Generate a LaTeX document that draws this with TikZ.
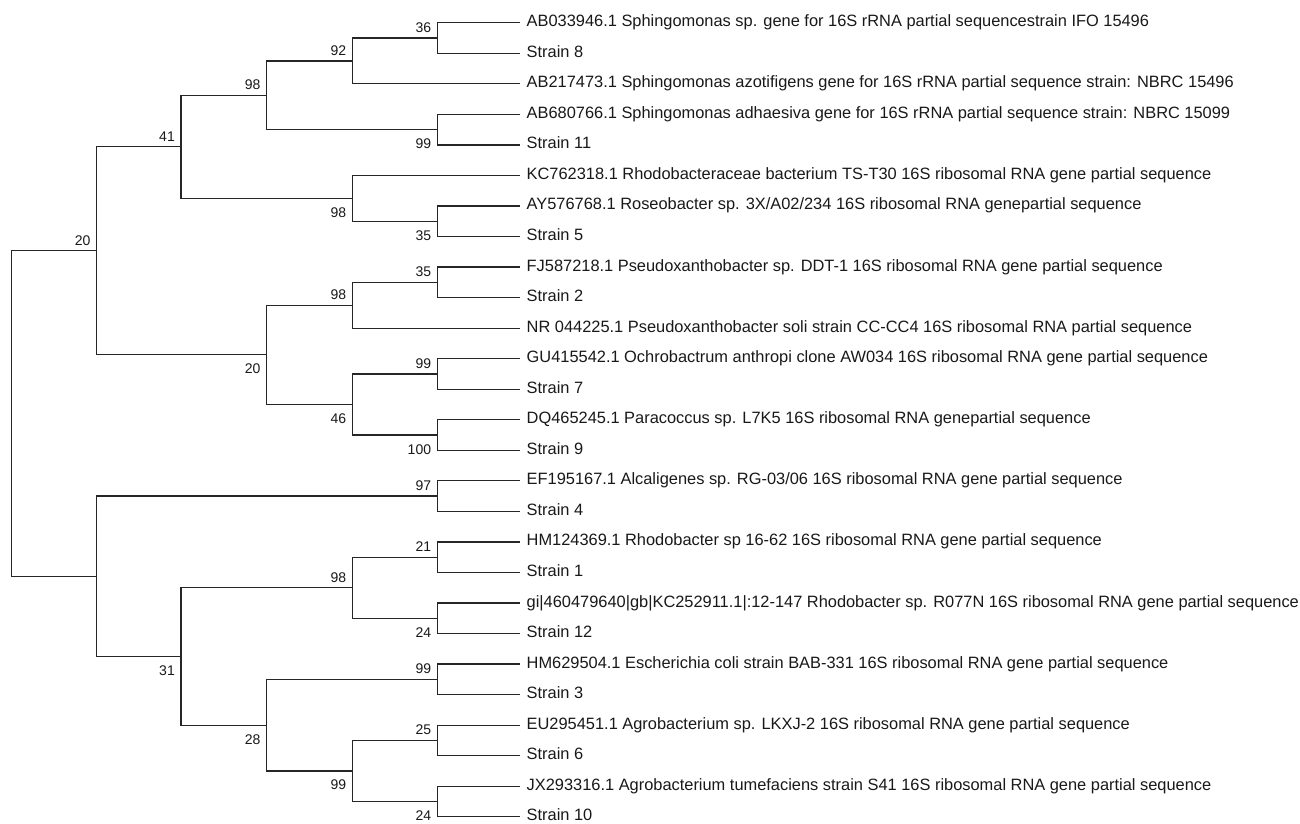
\documentclass[tikz,border=0pt]{standalone}
\usepackage{fontspec}
\setmainfont{Liberation Sans}
\begin{document}
\begin{tikzpicture}[x=1pt,y=-1pt,
  branch/.style={draw=black!85,line width=1.2pt},
  leaf/.style={anchor=west,inner xsep=6.5pt,inner ysep=0pt,text height=11.5pt,text depth=3.5pt,
    font=\fontsize{16.4}{19}\selectfont,text=black!90},
  bsup/.style={anchor=base east,inner sep=0pt,xshift=-6pt,yshift=5.5pt,font=\fontsize{14}{16}\selectfont,text=black!90},
  bsdn/.style={anchor=base east,inner sep=0pt,xshift=-6pt,yshift=-19pt,font=\fontsize{14}{16}\selectfont,text=black!90}]
\fill[white] (0,0) rectangle (1300,823);
\useasboundingbox (0,0) rectangle (1300,823);
% leaves
\node[leaf] (l0) at (520,22.7) {AB033946.1 Sphingomonas sp. gene for 16S rRNA partial sequencestrain IFO 15496};
\node[leaf] (l1) at (520,53.2) {Strain 8};
\node[leaf] (l2) at (520,83.8) {AB217473.1 Sphingomonas azotifigens gene for 16S rRNA partial sequence strain: NBRC 15496};
\node[leaf] (l3) at (520,114.3) {AB680766.1 Sphingomonas adhaesiva gene for 16S rRNA partial sequence strain: NBRC 15099};
\node[leaf] (l4) at (520,144.9) {Strain 11};
\node[leaf] (l5) at (520,175.4) {KC762318.1 Rhodobacteraceae bacterium TS-T30 16S ribosomal RNA gene partial sequence};
\node[leaf] (l6) at (520,205.9) {AY576768.1 Roseobacter sp. 3X/A02/234 16S ribosomal RNA genepartial sequence};
\node[leaf] (l7) at (520,236.5) {Strain 5};
\node[leaf] (l8) at (520,267.0) {FJ587218.1 Pseudoxanthobacter sp. DDT-1 16S ribosomal RNA gene partial sequence};
\node[leaf] (l9) at (520,297.6) {Strain 2};
\node[leaf] (l10) at (520,328.1) {NR 044225.1 Pseudoxanthobacter soli strain CC-CC4 16S ribosomal RNA partial sequence};
\node[leaf] (l11) at (520,358.6) {GU415542.1 Ochrobactrum anthropi clone AW034 16S ribosomal RNA gene partial sequence};
\node[leaf] (l12) at (520,389.2) {Strain 7};
\node[leaf] (l13) at (520,419.7) {DQ465245.1 Paracoccus sp. L7K5 16S ribosomal RNA genepartial sequence};
\node[leaf] (l14) at (520,450.3) {Strain 9};
\node[leaf] (l15) at (520,480.8) {EF195167.1 Alcaligenes sp. RG-03/06 16S ribosomal RNA gene partial sequence};
\node[leaf] (l16) at (520,511.3) {Strain 4};
\node[leaf] (l17) at (520,541.9) {HM124369.1 Rhodobacter sp 16-62 16S ribosomal RNA gene partial sequence};
\node[leaf] (l18) at (520,572.4) {Strain 1};
\node[leaf] (l19) at (520,603.0) {gi|460479640|gb|KC252911.1|:12-147 Rhodobacter sp. R077N 16S ribosomal RNA gene partial sequence};
\node[leaf] (l20) at (520,633.5) {Strain 12};
\node[leaf] (l21) at (520,664.0) {HM629504.1 Escherichia coli strain BAB-331 16S ribosomal RNA gene partial sequence};
\node[leaf] (l22) at (520,694.6) {Strain 3};
\node[leaf] (l23) at (520,725.1) {EU295451.1 Agrobacterium sp. LKXJ-2 16S ribosomal RNA gene partial sequence};
\node[leaf] (l24) at (520,755.7) {Strain 6};
\node[leaf] (l25) at (520,786.2) {JX293316.1 Agrobacterium tumefaciens strain S41 16S ribosomal RNA gene partial sequence};
\node[leaf] (l26) at (520,816.7) {Strain 10};
% internal nodes
\coordinate (n36) at (437.3,37.95);
\coordinate (n92) at (352.3,60.9);
\coordinate (n99a) at (437.3,129.6);
\coordinate (n98a) at (266.7,95.25);
\coordinate (n35a) at (437.3,221.2);
\coordinate (n98b) at (352.3,198.3);
\coordinate (n41) at (181,146.8);
\coordinate (n35b) at (437.3,282.3);
\coordinate (n98c) at (352.3,305.2);
\coordinate (n99b) at (437.3,373.9);
\coordinate (n100) at (437.3,435);
\coordinate (n46) at (352.3,404.45);
\coordinate (n20b) at (266.7,354.8);
\coordinate (n20u) at (96.7,250.8);
\coordinate (n97) at (437.3,496.05);
\coordinate (n21) at (437.3,557.15);
\coordinate (n24a) at (437.3,618.25);
\coordinate (n98d) at (352.3,587.7);
\coordinate (n99c) at (437.3,679.3);
\coordinate (n25) at (437.3,740.4);
\coordinate (n24b) at (437.3,801.45);
\coordinate (n99d) at (352.3,770.9);
\coordinate (n28) at (266.7,725.1);
\coordinate (n31b) at (181,656.4);
\coordinate (n31) at (96.7,576.2);
\coordinate (root) at (11.3,413.5);
% branches
\draw[branch] (root) |- (n20u);
\draw[branch] (root) |- (n31);
\draw[branch] (n20u) |- (n41);
\draw[branch] (n20u) |- (n20b);
\draw[branch] (n41) |- (n98a);
\draw[branch] (n41) |- (n98b);
\draw[branch] (n98a) |- (n92);
\draw[branch] (n98a) |- (n99a);
\draw[branch] (n92) |- (n36);
\draw[branch] (n92) |- (l2.west);
\draw[branch] (n36) |- (l0.west);
\draw[branch] (n36) |- (l1.west);
\draw[branch] (n99a) |- (l3.west);
\draw[branch] (n99a) |- (l4.west);
\draw[branch] (n98b) |- (l5.west);
\draw[branch] (n98b) |- (n35a);
\draw[branch] (n35a) |- (l6.west);
\draw[branch] (n35a) |- (l7.west);
\draw[branch] (n20b) |- (n98c);
\draw[branch] (n20b) |- (n46);
\draw[branch] (n98c) |- (n35b);
\draw[branch] (n98c) |- (l10.west);
\draw[branch] (n35b) |- (l8.west);
\draw[branch] (n35b) |- (l9.west);
\draw[branch] (n46) |- (n99b);
\draw[branch] (n46) |- (n100);
\draw[branch] (n99b) |- (l11.west);
\draw[branch] (n99b) |- (l12.west);
\draw[branch] (n100) |- (l13.west);
\draw[branch] (n100) |- (l14.west);
\draw[branch] (n31) |- (n97);
\draw[branch] (n31) |- (n31b);
\draw[branch] (n97) |- (l15.west);
\draw[branch] (n97) |- (l16.west);
\draw[branch] (n31b) |- (n98d);
\draw[branch] (n31b) |- (n28);
\draw[branch] (n98d) |- (n21);
\draw[branch] (n98d) |- (n24a);
\draw[branch] (n21) |- (l17.west);
\draw[branch] (n21) |- (l18.west);
\draw[branch] (n24a) |- (l19.west);
\draw[branch] (n24a) |- (l20.west);
\draw[branch] (n28) |- (n99c);
\draw[branch] (n28) |- (n99d);
\draw[branch] (n99c) |- (l21.west);
\draw[branch] (n99c) |- (l22.west);
\draw[branch] (n99d) |- (n25);
\draw[branch] (n99d) |- (n24b);
\draw[branch] (n25) |- (l23.west);
\draw[branch] (n25) |- (l24.west);
\draw[branch] (n24b) |- (l25.west);
\draw[branch] (n24b) |- (l26.west);
% bootstrap values
\node[bsup] (b20u) at (n20u) {20};
\node[bsup] (b41) at (n41) {41};
\node[bsup] (b98a) at (n98a) {98};
\node[bsup] (b92) at (n92) {92};
\node[bsup] (b36) at (n36) {36};
\node[bsdn] (b99a) at (n99a) {99};
\node[bsdn] (b98b) at (n98b) {98};
\node[bsdn] (b35a) at (n35a) {35};
\node[bsdn] (b20b) at (n20b) {20};
\node[bsup] (b98c) at (n98c) {98};
\node[bsup] (b35b) at (n35b) {35};
\node[bsdn] (b46) at (n46) {46};
\node[bsup] (b99b) at (n99b) {99};
\node[bsdn] (b100) at (n100) {100};
\node[bsup] (b97) at (n97) {97};
\node[bsdn] (b31b) at (n31b) {31};
\node[bsup] (b98d) at (n98d) {98};
\node[bsup] (b21) at (n21) {21};
\node[bsdn] (b24a) at (n24a) {24};
\node[bsdn] (b28) at (n28) {28};
\node[bsup] (b99c) at (n99c) {99};
\node[bsdn] (b99d) at (n99d) {99};
\node[bsup] (b25) at (n25) {25};
\node[bsdn] (b24b) at (n24b) {24};
\end{tikzpicture}
\end{document}
